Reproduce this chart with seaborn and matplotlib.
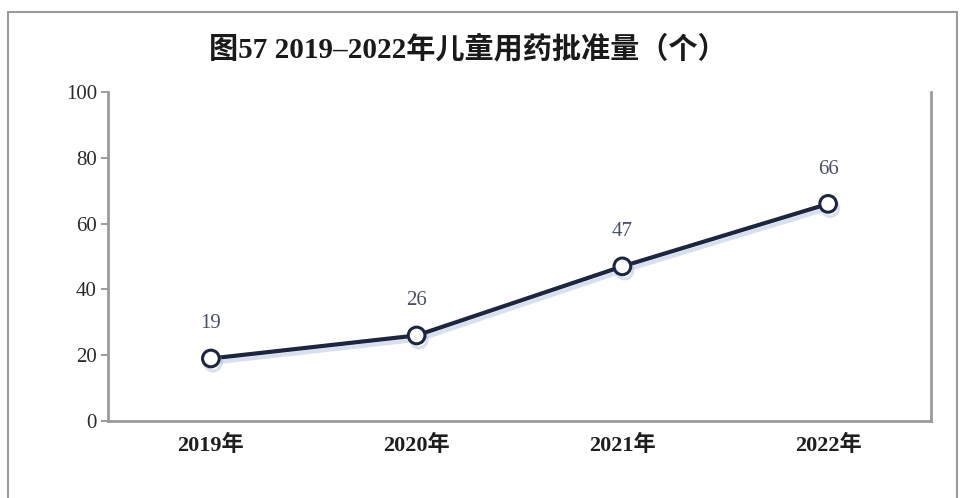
import matplotlib
matplotlib.use("Agg")
import matplotlib.pyplot as plt
import matplotlib.patheffects as pe
from matplotlib.patches import Rectangle
import seaborn as sns
import pandas as pd

years = ["2019年", "2020年", "2021年", "2022年"]
approvals = [19, 26, 47, 66]
y_ticks = [0, 20, 40, 60, 80, 100]
title = "图57 2019–2022年儿童用药批准量（个）"

sns.set_theme(style="white")
plt.rcParams["font.family"] = ["Liberation Serif", "Noto Sans CJK SC", "DejaVu Sans"]

df = pd.DataFrame({"year": years, "count": approvals})

fig = plt.figure(figsize=(9.61, 4.98), dpi=100)
fig.patch.set_facecolor("white")

# outer frame of the figure panel
fig.patches.append(Rectangle((8 / 961, -0.1), 949 / 961, 1.1 - 12 / 498,
                             transform=fig.transFigure, fill=False,
                             edgecolor="#9a9a9a", linewidth=1.5))

ax = fig.add_axes([108 / 961, 1 - 421 / 498, 823 / 961, 329 / 498])

line_color = "#1c2640"
sns.lineplot(data=df, x="year", y="count", ax=ax, color=line_color,
             linewidth=3, marker="o", markersize=12,
             markerfacecolor="white", markeredgecolor=line_color,
             markeredgewidth=2.2, sort=False,
             path_effects=[pe.SimpleLineShadow(offset=(1.5, -3), shadow_color="#a9bbdc", alpha=0.45),
                           pe.Normal()])

for i, v in enumerate(approvals):
    ax.annotate(str(v), (i, v), xytext=(0, 18), textcoords="offset points",
                ha="center", va="bottom", fontsize=15, color="#4a4f68")

ax.set_xlim(-0.5, 3.5)
ax.set_ylim(0, 100)
ax.set_yticks(y_ticks)
ax.set_xlabel("")
ax.set_ylabel("")

ax.tick_params(axis="y", which="both", left=True, length=5, width=1.2,
               color="#8a8a8a", labelsize=15, labelcolor="#2a2a2a", pad=3)
ax.tick_params(axis="x", bottom=False, labelsize=16, labelcolor="#1e1e1e", pad=4)
for lbl in ax.get_xticklabels():
    lbl.set_fontweight("bold")

for side in ["left", "bottom", "right"]:
    ax.spines[side].set_visible(True)
    ax.spines[side].set_color("#9a9a9a")
    ax.spines[side].set_linewidth(2)
ax.spines["top"].set_visible(False)

fig.text(468 / 961, 1 - 49 / 498, title, ha="center", va="center",
         fontsize=21, fontweight="bold", color="#1a1a1a")

fig.savefig("out.png", dpi=100)
